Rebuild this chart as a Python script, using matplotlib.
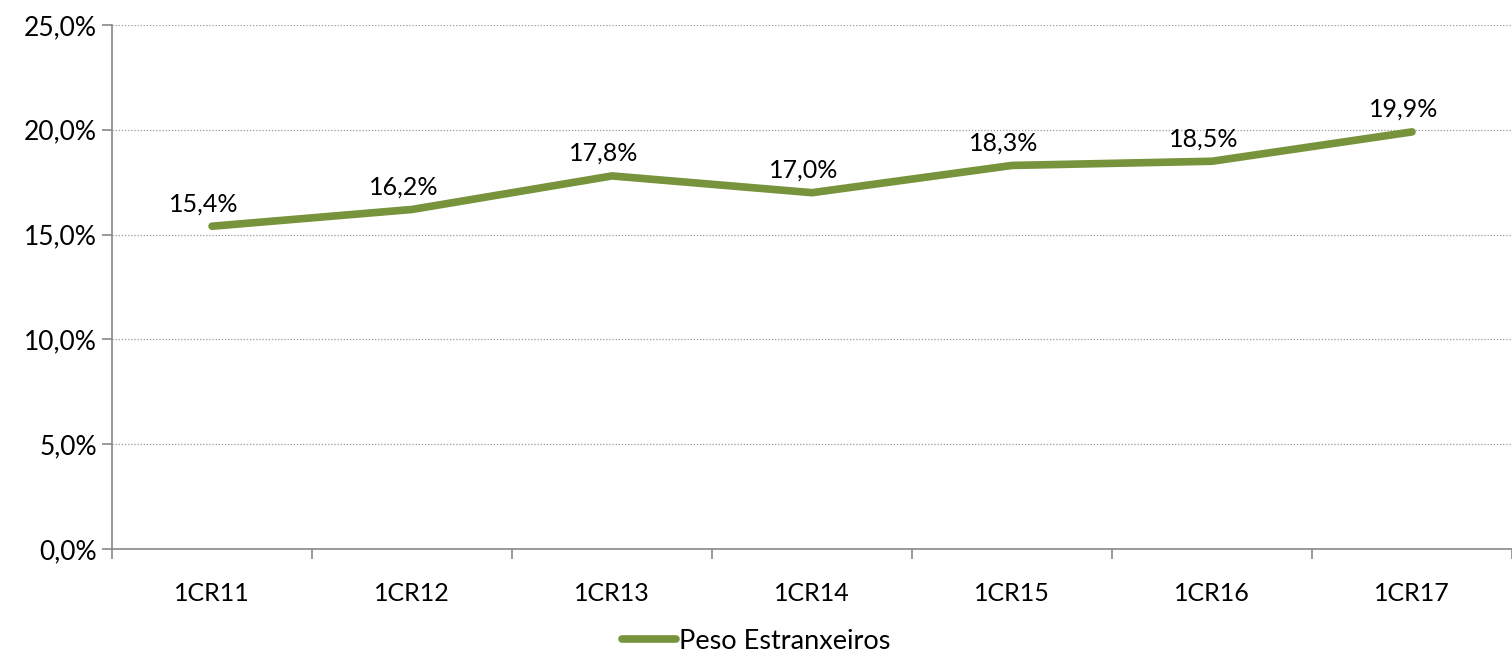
import matplotlib.pyplot as plt
import numpy as np

categorias = ["1CR11", "1CR12", "1CR13", "1CR14", "1CR15", "1CR16", "1CR17"]
peso = [15.4, 16.2, 17.8, 17.0, 18.3, 18.5, 19.9]
etiquetas = ["15,4%", "16,2%", "17,8%", "17,0%", "18,3%", "18,5%", "19,9%"]
yticks = [0, 5, 10, 15, 20, 25]

plt.rcParams['font.family'] = ['Lato', 'DejaVu Sans']

fig = plt.figure(figsize=(15.12, 6.65), dpi=100)
ax = fig.add_axes([0.0741, 0.1744, 0.9259, 0.788])

x = np.arange(len(categorias))
verde = '#77933C'
ax.plot(x, peso, color=verde, linewidth=5.5, solid_capstyle='round',
        solid_joinstyle='round', label='Peso Estranxeiros', zorder=3)

for xi, yi, t in zip(x, peso, etiquetas):
    ax.annotate(t, (xi, yi), xytext=(-6, 8), textcoords='offset points',
                ha='center', va='bottom', fontsize=18)

ax.set_xlim(-0.5, 6.5)
ax.set_ylim(0, 25)
ax.set_yticks(yticks)
ax.set_yticklabels([f"{v:.1f}".replace('.', ',') + '%' for v in yticks], fontsize=19)
ax.yaxis.grid(True, linestyle=(0, (1, 1.5)), color='#999999', linewidth=0.9)
ax.set_axisbelow(True)

ax.set_xticks(x)
ax.set_xticklabels(categorias, fontsize=18)
ax.set_xticks(np.arange(-0.5, 7, 1), minor=True)
ax.tick_params(axis='x', which='major', length=0, pad=24)
ax.tick_params(axis='x', which='minor', length=7, color='#888888', width=1.2)
ax.tick_params(axis='y', length=7, color='#888888', width=1.2, pad=4)

for s in ['top', 'right']:
    ax.spines[s].set_visible(False)
for s in ['left', 'bottom']:
    ax.spines[s].set_color('#888888')
    ax.spines[s].set_linewidth(1.2)

leg = fig.legend(loc='lower center', bbox_to_anchor=(0.5, -0.02), frameon=False,
                 fontsize=19.5, handlelength=2.0, handletextpad=0.1)

fig.savefig('out.png', dpi=100)
